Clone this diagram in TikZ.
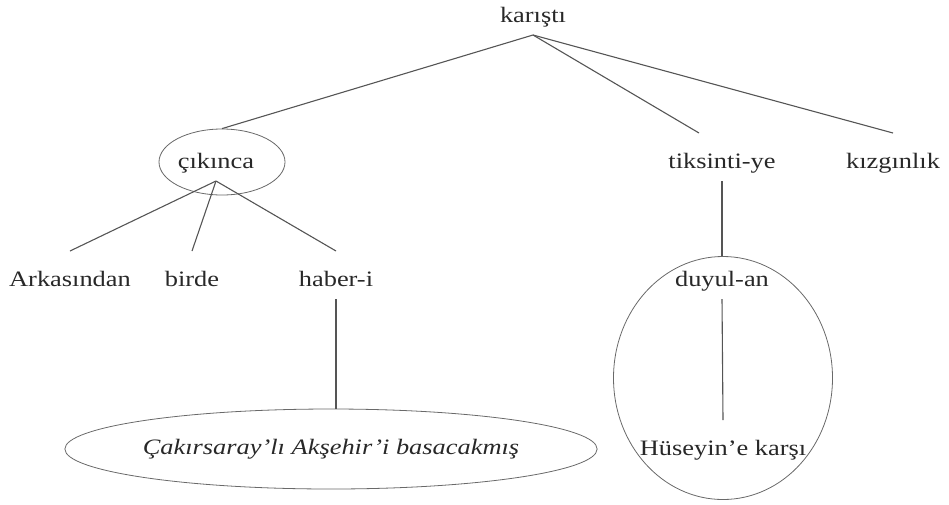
\documentclass[tikz,border=0pt]{standalone}
\usepackage{xcolor}
\usepackage{fontspec}
\setmainfont{Liberation Serif}[FakeStretch=1.2]
\usepackage{tikz}
\usetikzlibrary{shapes,shapes.geometric,calc}
\definecolor{inkgray}{RGB}{40,40,40}
\definecolor{branchgray}{RGB}{85,85,85}
\definecolor{ringgray}{RGB}{105,105,105}
\tikzset{
  word/.style={anchor=base, inner sep=0pt, outer xsep=0pt, outer ysep=9pt,
    text height=26pt, text depth=4pt, text=inkgray},
  ring/.style={draw=ringgray, ellipse, line width=0.8pt, inner sep=0pt},
  branch/.style={draw=branchgray, line width=1.1pt}
}

\begin{document}
\begin{tikzpicture}[x=1pt, y=-1pt, font=\fontsize{22}{26}\selectfont]
\useasboundingbox (0,0) rectangle (949,504);
\node[word] (kar) at (533,22) {karıştı};
\node[word] (cik) at (216,168) {çıkınca};
\node[ring, minimum width=126pt, minimum height=66pt] (cikring) at (222,162) {};
\node[word] (tik) at (722,168) {tiksinti-ye};
\node[word] (kiz) at (893,168) {kızgınlık};
\node[word] (arka) at (70,286) {Arkasından};
\node[word] (bir) at (192,286) {birde};
\node[word] (hab) at (336,286) {haber-i};
\node[ring, text height=14pt, text depth=4pt, text=inkgray, font=\fontsize{22}{26}\selectfont\itshape,
  minimum width=446pt, minimum height=80pt] (bas) at (331,449) {Çakırsaray'lı Akşehir'i basacakmış};
\node[ring, minimum width=219pt, minimum height=243pt] (grp) at (723,378) {};
\node[word] (duy) at (722,286) {duyul-an};
\node[word] (hus) at (723,455) {Hüseyin’e karşı};
\draw[branch] (kar.south) -- (cikring.north);
\draw[branch] (kar.south) -- ([xshift=-23pt]tik.north);
\draw[branch] (kar.south) -- (kiz.north);
\draw[branch] (cik.south) -- (arka.north);
\draw[branch] (cik.south) -- (bir.north);
\draw[branch] (cik.south) -- (hab.north);
\draw[branch] (hab.south) -- (hab.south |- bas.north);
\draw[branch] (tik.south) -- (tik.south |- grp.north);
\draw[branch] (duy.south) -- (hus.north);
\end{tikzpicture}
\end{document}
